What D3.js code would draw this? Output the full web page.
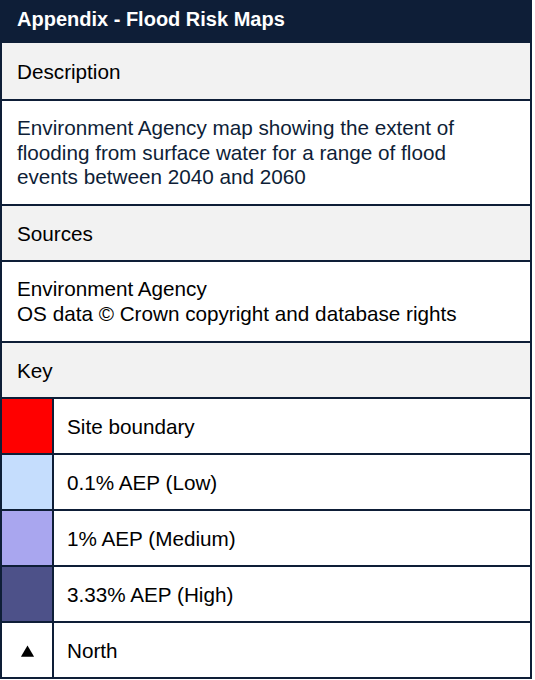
<!DOCTYPE html>
<html>
<head>
<meta charset="utf-8">
<script src="https://cdn.jsdelivr.net/npm/d3@7"></script>
<style>
  html, body { margin: 0; padding: 0; background: #ffffff; }
  svg { display: block; font-family: "Liberation Sans", Arial, sans-serif; }
</style>
</head>
<body>
<svg id="panel" width="535" height="680"></svg>
<script>
// panel content
let title = "Appendix - Flood Risk Maps";
let sectionNames = ["Description", "Sources", "Key"];
let descriptionLines = ["Environment Agency map showing the extent of",
    "flooding from surface water for a range of flood",
    "events between 2040 and 2060"];
let sourceLines = ["Environment Agency", "OS data \u00a9 Crown copyright and database rights"];
let keyLabels = ["Site boundary", "0.1% AEP (Low)", "1% AEP (Medium)", "3.33% AEP (High)", "North"];
let keyColors = ["#ff0000", "#c5ddfd", "#a9a6ef", "#4d5189", null];

let navy = "#0e1e37";
let grey = "#f2f2f2";

let svg = d3.select("#panel");
let left = 1, right = 531, swatchW = 53;
let fs = 20.7, lh = 24.5;

// vertical layout of the blocks (top, bottom)
let blocks = [
    {type: "title", y0: 0, y1: 43},
    {type: "head", name: sectionNames[0], y0: 43, y1: 100},
    {type: "text", lines: descriptionLines, y0: 100, y1: 205, color: navy},
    {type: "head", name: sectionNames[1], y0: 205, y1: 261},
    {type: "text", lines: sourceLines, y0: 261, y1: 342, color: "#000"},
    {type: "head", name: sectionNames[2], y0: 342, y1: 398}
];

let keyY = d3.scaleBand()
    .domain(keyLabels)
    .range([398, 678])
    .paddingInner(0);

let g = svg.append("g");

for (let b of blocks) {
    let fill = b.type === "title" ? navy : (b.type === "head" ? grey : "#fff");
    g.append("rect")
        .attr("x", 0).attr("y", b.y0)
        .attr("width", right + 1).attr("height", b.y1 - b.y0)
        .attr("fill", fill);

    if (b.type === "title") {
        g.append("text")
            .attr("x", 17).attr("y", 26)
            .attr("fill", "#fff")
            .attr("font-size", 20).attr("font-weight", "bold")
            .text(title);
    } else if (b.type === "head") {
        g.append("text")
            .attr("x", 17).attr("y", (b.y0 + b.y1) / 2 + 7.5)
            .attr("fill", "#000")
            .attr("font-size", fs)
            .text(b.name);
    } else {
        let mid = (b.y0 + b.y1) / 2;
        let first = mid + 7 - (b.lines.length - 1) * lh / 2;
        g.selectAll(null)
            .data(b.lines).enter()
            .append("text")
            .attr("x", 17)
            .attr("y", (d, i) => first + i * lh)
            .attr("fill", b.color)
            .attr("font-size", fs)
            .text(d => d);
    }
}

// key rows
let rows = g.selectAll("g.keyrow")
    .data(keyLabels).enter()
    .append("g")
    .attr("class", "keyrow")
    .attr("transform", d => `translate(0,${keyY(d)})`);

rows.append("rect")
    .attr("x", 0).attr("y", 0)
    .attr("width", right + 1).attr("height", keyY.bandwidth())
    .attr("fill", "#fff");

rows.append("rect")
    .attr("x", 0).attr("y", 0)
    .attr("width", swatchW).attr("height", keyY.bandwidth())
    .attr("fill", (d, i) => keyColors[i] || "#fff");

rows.append("text")
    .attr("x", 67).attr("y", keyY.bandwidth() / 2 + 7.5)
    .attr("fill", "#000")
    .attr("font-size", fs)
    .text(d => d);

// north arrow in the last row
rows.filter((d, i) => keyColors[i] === null)
    .append("path")
    .attr("d", d3.symbol(d3.symbolTriangle, 75))
    .attr("transform", `translate(27.5,${keyY.bandwidth() / 2 + 3})`)
    .attr("fill", "#000");

// grid lines
let hLines = blocks.slice(1).map(b => b.y1).concat(keyLabels.map(k => keyY(k) + keyY.bandwidth()));
g.selectAll("line.h")
    .data(hLines).enter()
    .append("line")
    .attr("class", "h")
    .attr("x1", 0).attr("x2", right + 1)
    .attr("y1", d => d).attr("y2", d => d)
    .attr("stroke", navy).attr("stroke-width", 2);

g.append("line")
    .attr("x1", left).attr("x2", left)
    .attr("y1", 43).attr("y2", 678)
    .attr("stroke", navy).attr("stroke-width", 2);
g.append("line")
    .attr("x1", right).attr("x2", right)
    .attr("y1", 0).attr("y2", 678)
    .attr("stroke", navy).attr("stroke-width", 2);
g.append("line")
    .attr("x1", swatchW).attr("x2", swatchW)
    .attr("y1", 398).attr("y2", 678)
    .attr("stroke", navy).attr("stroke-width", 2);
</script>
</body>
</html>
